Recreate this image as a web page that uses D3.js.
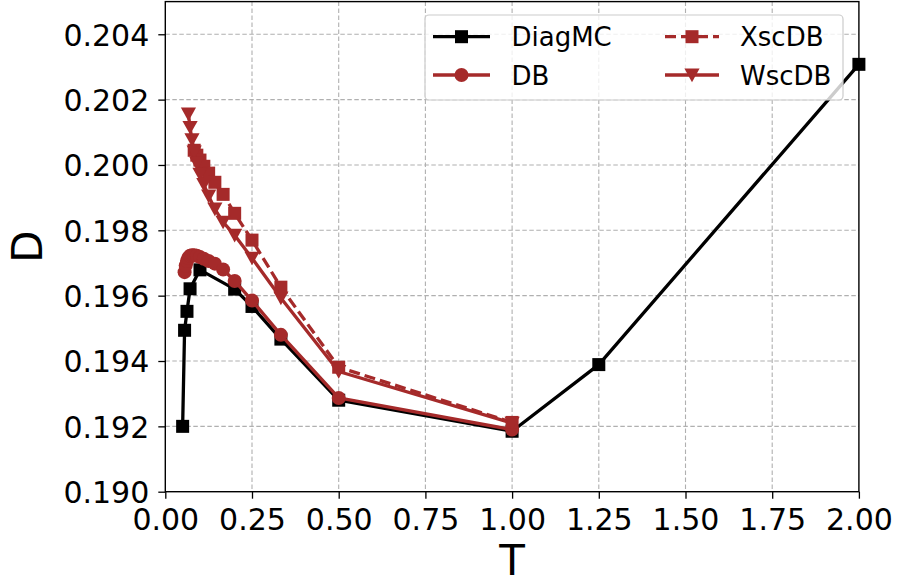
<!DOCTYPE html>
<html>
<head>
<meta charset="utf-8">
<script src="https://cdn.jsdelivr.net/npm/d3@7"></script>
<style>
  html, body { margin: 0; padding: 0; background: #fff; }
  svg { display: block; font-family: "DejaVu Sans", sans-serif; }
</style>
</head>
<body>
<svg id="chart" width="897" height="579"></svg>
<script>
// Diffusion constant D versus temperature T for four methods
const diagT = [0.05, 0.0556, 0.0625, 0.0714, 0.1, 0.2, 0.25, 0.3333, 0.5, 1.0, 1.25, 2.0];
const diagD = [0.19200, 0.19494, 0.19552, 0.19621, 0.19679, 0.19620, 0.19567, 0.19467, 0.19280, 0.19185, 0.19389, 0.20308];

const dbT = [0.0556, 0.0588, 0.0625, 0.0667, 0.0714, 0.0769, 0.0833, 0.0909, 0.1, 0.1111, 0.125, 0.1429, 0.1667, 0.2, 0.25, 0.3333, 0.5, 1.0];
const dbD = [0.19672, 0.19692, 0.19706, 0.19716, 0.19722, 0.19724, 0.19724, 0.19722, 0.19718, 0.19713, 0.19706, 0.19698, 0.19680, 0.19645, 0.19585, 0.19480, 0.19287, 0.19190];

const xscT = [0.0833, 0.0909, 0.1, 0.1111, 0.125, 0.1429, 0.1667, 0.2, 0.25, 0.3333, 0.5, 1.0];
const xscD = [0.20045, 0.20030, 0.20015, 0.19996, 0.19975, 0.19947, 0.19910, 0.19852, 0.19770, 0.19626, 0.19381, 0.19212];

const wscT = [0.0667, 0.0714, 0.0769, 0.0833, 0.0909, 0.1, 0.1111, 0.125, 0.1429, 0.1667, 0.2, 0.25, 0.3333, 0.5, 1.0];
const wscD = [0.20156, 0.20115, 0.20077, 0.20040, 0.20005, 0.19972, 0.19940, 0.19905, 0.19865, 0.19825, 0.19785, 0.19715, 0.19593, 0.19368, 0.19210];

const xTicks = [0, 0.25, 0.5, 0.75, 1.0, 1.25, 1.5, 1.75, 2.0];
const yTicks = [0.190, 0.192, 0.194, 0.196, 0.198, 0.200, 0.202, 0.204];

const seriesNames = ["DiagMC", "DB", "XscDB", "WscDB"];

const BROWN = "#a52a2a";
const series = [
  { name: seriesNames[0], T: diagT, D: diagD, color: "#000", marker: "square", dash: null },
  { name: seriesNames[1], T: dbT, D: dbD, color: BROWN, marker: "circle", dash: null },
  { name: seriesNames[2], T: xscT, D: xscD, color: BROWN, marker: "square", dash: "11,5" },
  { name: seriesNames[3], T: wscT, D: wscD, color: BROWN, marker: "triangle", dash: null }
];

const svg = d3.select("#chart");
const plotL = 165.3, plotR = 858.9, plotT = 1.6, plotB = 491.7;

const x = d3.scaleLinear().domain([0, 2]).range([plotL, plotR]);
const y = d3.scaleLinear().domain([0.190, 0.205]).range([plotB, plotT]);

// grid
const grid = svg.append("g");
grid.selectAll("line.gx").data(xTicks.slice(1, -1)).enter().append("line")
  .attr("x1", d => x(d)).attr("x2", d => x(d)).attr("y1", plotT).attr("y2", plotB)
  .attr("stroke", "#b0b0b0").attr("stroke-width", 1.1).attr("stroke-dasharray", "4.5,2.5");
grid.selectAll("line.gy").data(yTicks.slice(1)).enter().append("line")
  .attr("x1", plotL).attr("x2", plotR).attr("y1", d => y(d)).attr("y2", d => y(d))
  .attr("stroke", "#b0b0b0").attr("stroke-width", 1.1).attr("stroke-dasharray", "4.5,2.5");

// axes
const xAxis = d3.axisBottom(x).tickValues(xTicks).tickFormat(d3.format(".2f")).tickSizeOuter(0).tickSize(7);
const yAxis = d3.axisLeft(y).tickValues(yTicks).tickFormat(d3.format(".3f")).tickSizeOuter(0).tickSize(7).tickPadding(9);

const gx = svg.append("g").attr("transform", `translate(0,${plotB})`).call(xAxis);
gx.select(".domain").remove();
gx.selectAll(".tick line").attr("stroke", "#000").attr("stroke-width", 1.3);
gx.selectAll(".tick text").attr("font-size", 30).attr("font-family", "DejaVu Sans")
  .attr("fill", "#000").attr("y", 38.3).attr("dy", 0);

const gy = svg.append("g").attr("transform", `translate(${plotL},0)`).call(yAxis);
gy.select(".domain").remove();
gy.selectAll(".tick line").attr("stroke", "#000").attr("stroke-width", 1.3);
gy.selectAll(".tick text").attr("font-size", 30).attr("font-family", "DejaVu Sans")
  .attr("fill", "#000").attr("dy", "0.364em");

// axis labels
svg.append("text").attr("x", x(1)).attr("y", 575).attr("text-anchor", "middle")
  .attr("font-size", 42).attr("fill", "#000").text("T");
svg.append("text").attr("transform", `translate(41.5,${y(0.1975)}) rotate(-90)`)
  .attr("text-anchor", "middle").attr("font-size", 42).attr("fill", "#000").text("D");

// markers
function drawMarker(g, type, cx, cy, color) {
  if (type === "square") {
    g.append("rect").attr("x", cx - 6.5).attr("y", cy - 6.5).attr("width", 13).attr("height", 13).attr("fill", color);
  } else if (type === "circle") {
    g.append("circle").attr("cx", cx).attr("cy", cy).attr("r", 7).attr("fill", color);
  } else if (type === "triangle") {
    const s = 7.6;
    g.append("path").attr("d", `M${cx - s},${cy - s * 0.85} L${cx + s},${cy - s * 0.85} L${cx},${cy + s * 0.95} Z`).attr("fill", color);
  }
}

const plot = svg.append("g");
const line = d3.line().x(d => x(d[0])).y(d => y(d[1]));
series.forEach(s => {
  const pts = s.T.map((t, i) => [t, s.D[i]]);
  const g = plot.append("g");
  g.append("path").attr("d", line(pts)).attr("fill", "none").attr("stroke", s.color)
    .attr("stroke-width", 3.3).attr("stroke-linejoin", "round")
    .attr("stroke-dasharray", s.dash);
  pts.forEach(p => drawMarker(g, s.marker, x(p[0]), y(p[1]), s.color));
});

// frame
svg.append("rect").attr("x", plotL).attr("y", plotT).attr("width", plotR - plotL).attr("height", plotB - plotT)
  .attr("fill", "none").attr("stroke", "#000").attr("stroke-width", 1.4);

// legend
const lg = svg.append("g");
lg.append("rect").attr("x", 425).attr("y", 15).attr("width", 418).attr("height", 85).attr("rx", 4)
  .attr("fill", "#fff").attr("fill-opacity", 0.8).attr("stroke", "#cccccc").attr("stroke-width", 1.2);
const cols = [{ x1: 433, x2: 490, tx: 511.5 }, { x1: 665, x2: 719, tx: 740 }];
const rows = [36.7, 75];
series.forEach((s, i) => {
  const c = cols[Math.floor(i / 2)], ry = rows[i % 2];
  lg.append("line").attr("x1", c.x1).attr("x2", c.x2).attr("y1", ry).attr("y2", ry)
    .attr("stroke", s.color).attr("stroke-width", 3.3).attr("stroke-dasharray", s.dash);
  drawMarker(lg, s.marker, (c.x1 + c.x2) / 2, ry, s.color);
  lg.append("text").attr("x", c.tx).attr("y", ry + 9.5).attr("font-size", 26).attr("fill", "#000").text(s.name);
});
</script>
</body>
</html>
